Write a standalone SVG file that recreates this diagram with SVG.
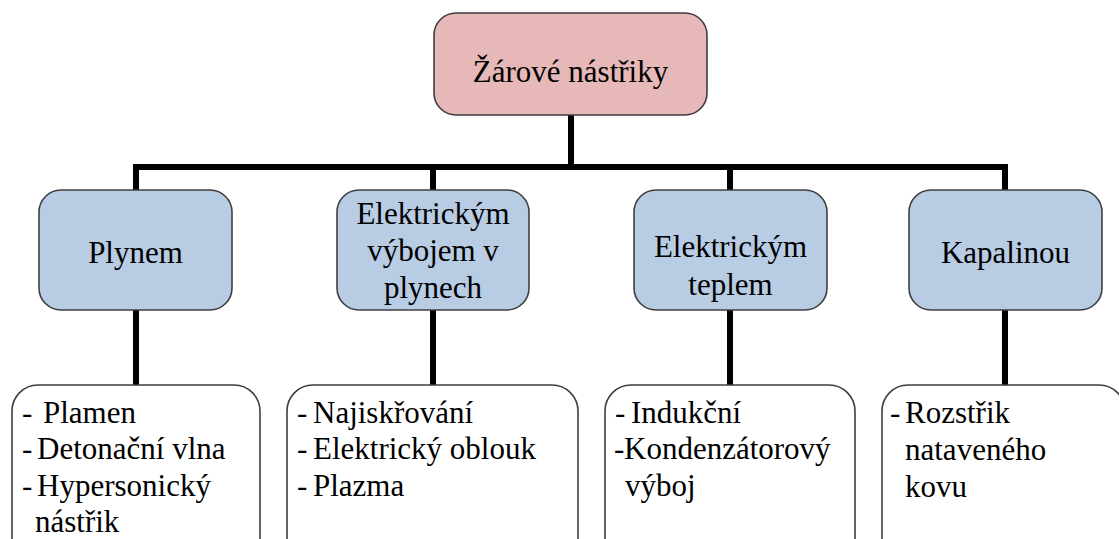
<svg xmlns="http://www.w3.org/2000/svg" width="1119" height="539" viewBox="0 0 1119 539">
<style>
text{font-family:"Liberation Serif","Tinos","Times New Roman","Noto Serif","DejaVu Serif",Times,serif;font-size:31px;fill:#000}
.c{text-anchor:middle}
.box{stroke:#3f3f3f;stroke-width:1.6}
.root{fill:#e6b8b7}
.cat{fill:#b8cce4}
.list{fill:#fff}
.conn{stroke:#000;stroke-width:6;fill:none}
</style>
<rect width="1119" height="539" fill="#fff"/>
<g id="connectors">
<path class="conn" d="M571 115V167M133 167H1008M136 167V190M433 167V190M730 167V190M1005 167V190"/>
<path class="conn" d="M136 310V385M433 310V385M730 310V385M1005 310V385"/>
</g>
<g id="root">
<rect class="box root" x="434" y="13" width="273" height="102" rx="22"/>
<text class="c" x="570.5" y="82" font-family="Liberation Serif, serif">Žárové nástřiky</text>
</g>
<g id="plynem">
<rect class="box cat" x="39" y="190" width="193" height="120" rx="22"/>
<text class="c" x="135.5" y="263">Plynem</text>
</g>
<g id="vyboj">
<rect class="box cat" x="337" y="190" width="192" height="120" rx="22"/>
<text class="c" x="433" y="224">Elektrickým</text>
<text class="c" x="433" y="261">výbojem v</text>
<text class="c" x="433" y="298">plynech</text>
</g>
<g id="teplem">
<rect class="box cat" x="634" y="190" width="193" height="120" rx="22"/>
<text class="c" x="730.5" y="257">Elektrickým</text>
<text class="c" x="730.5" y="295">teplem</text>
</g>
<g id="kapalinou">
<rect class="box cat" x="909" y="190" width="193" height="120" rx="22"/>
<text class="c" x="1005.5" y="263">Kapalinou</text>
</g>
<g id="list-plynem">
<rect class="box list" x="12" y="385" width="248" height="180" rx="26"/>
<text x="22" y="423">-</text><text x="43" y="423">Plamen</text>
<text x="22" y="459">-</text><text x="37" y="459">Detonační vlna</text>
<text x="22" y="496">-</text><text x="37" y="496">Hypersonický</text>
<text x="35" y="532">nástřik</text>
</g>
<g id="list-vyboj">
<rect class="box list" x="287" y="385" width="291" height="180" rx="26"/>
<text x="297" y="423">-</text><text x="313" y="423">Najiskřování</text>
<text x="297" y="459">-</text><text x="313" y="459">Elektrický oblouk</text>
<text x="297" y="496">-</text><text x="313" y="496">Plazma</text>
</g>
<g id="list-teplem">
<rect class="box list" x="605" y="385" width="250" height="180" rx="26"/>
<text x="615" y="423">-</text><text x="631" y="423">Indukční</text>
<text x="614" y="459">-</text><text x="624" y="459">Kondenzátorový</text>
<text x="625" y="496">výboj</text>
</g>
<g id="list-kapalinou">
<rect class="box list" x="882" y="385" width="243" height="180" rx="26"/>
<text x="890" y="423">-</text><text x="905" y="423">Rozstřik</text>
<text x="905" y="460">nataveného</text>
<text x="905" y="497">kovu</text>
</g>
</svg>
